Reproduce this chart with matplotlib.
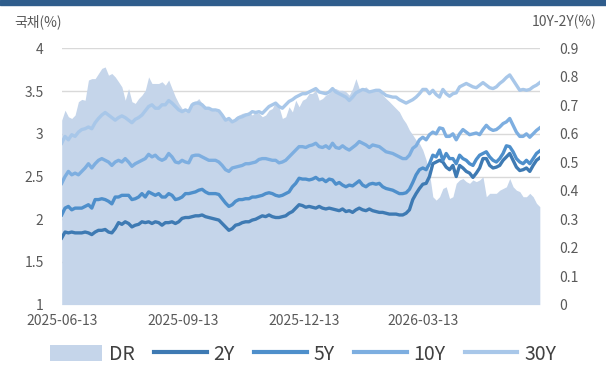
import pandas as pd
import matplotlib
matplotlib.use("Agg")
from matplotlib import pyplot as plt
from matplotlib.patches import Patch, Rectangle
from matplotlib.lines import Line2D
import matplotlib.dates as mdates

plt.rcParams['font.family'] = ['Noto Sans CJK KR', 'DejaVu Sans']

dates = pd.date_range('2025-06-13', '2026-06-09', periods=144)

y30 = [2.89, 2.97, 2.93, 2.99, 2.97, 3.02, 3.05, 3.06, 3.08, 3.06, 3.13, 3.18, 3.22, 3.25, 3.22, 3.19,
       3.16, 3.19, 3.21, 3.19, 3.16, 3.13, 3.17, 3.19, 3.22, 3.27, 3.32, 3.34, 3.30, 3.30, 3.34, 3.34,
       3.39, 3.36, 3.32, 3.28, 3.26, 3.28, 3.26, 3.34, 3.36, 3.36, 3.34, 3.30, 3.30, 3.28, 3.28, 3.27,
       3.22, 3.16, 3.18, 3.14, 3.16, 3.19, 3.20, 3.22, 3.23, 3.26, 3.25, 3.26, 3.24, 3.28, 3.32, 3.34,
       3.36, 3.32, 3.30, 3.34, 3.38, 3.40, 3.43, 3.45, 3.47, 3.47, 3.49, 3.51, 3.53, 3.49, 3.48, 3.47,
       3.49, 3.53, 3.49, 3.47, 3.45, 3.43, 3.39, 3.43, 3.48, 3.50, 3.52, 3.51, 3.49, 3.50, 3.51, 3.51,
       3.48, 3.45, 3.44, 3.43, 3.43, 3.40, 3.38, 3.36, 3.38, 3.40, 3.43, 3.47, 3.52, 3.52, 3.47, 3.51,
       3.46, 3.43, 3.52, 3.47, 3.44, 3.47, 3.48, 3.55, 3.57, 3.59, 3.57, 3.55, 3.54, 3.57, 3.60, 3.57,
       3.54, 3.53, 3.55, 3.59, 3.62, 3.66, 3.69, 3.63, 3.57, 3.51, 3.52, 3.51, 3.52, 3.55, 3.57, 3.60]

y10 = [2.42, 2.50, 2.56, 2.52, 2.54, 2.52, 2.56, 2.60, 2.65, 2.60, 2.65, 2.69, 2.71, 2.69, 2.67, 2.63,
       2.67, 2.69, 2.67, 2.71, 2.67, 2.62, 2.65, 2.67, 2.69, 2.71, 2.76, 2.73, 2.75, 2.71, 2.69, 2.71,
       2.77, 2.73, 2.67, 2.66, 2.69, 2.67, 2.66, 2.74, 2.75, 2.75, 2.73, 2.71, 2.69, 2.69, 2.69, 2.67,
       2.63, 2.58, 2.56, 2.60, 2.61, 2.62, 2.63, 2.65, 2.65, 2.66, 2.67, 2.70, 2.71, 2.71, 2.70, 2.69,
       2.69, 2.66, 2.67, 2.69, 2.73, 2.77, 2.81, 2.85, 2.85, 2.84, 2.86, 2.87, 2.89, 2.85, 2.84, 2.86,
       2.83, 2.89, 2.84, 2.83, 2.86, 2.83, 2.81, 2.84, 2.87, 2.91, 2.89, 2.87, 2.84, 2.87, 2.86, 2.85,
       2.82, 2.79, 2.78, 2.77, 2.75, 2.73, 2.71, 2.71, 2.75, 2.83, 2.86, 2.93, 2.96, 2.93, 2.99, 3.02,
       3.00, 3.07, 3.06, 2.97, 2.97, 3.00, 2.93, 3.00, 3.05, 3.02, 2.99, 3.00, 3.01, 2.99, 3.05, 3.10,
       3.06, 3.04, 3.05, 3.08, 3.12, 3.14, 3.18, 3.10, 3.02, 2.97, 2.97, 3.00, 2.96, 3.00, 3.04, 3.07]

y5 = [2.05, 2.13, 2.15, 2.11, 2.13, 2.13, 2.13, 2.15, 2.17, 2.13, 2.23, 2.23, 2.24, 2.23, 2.21, 2.18,
      2.26, 2.26, 2.28, 2.28, 2.28, 2.23, 2.24, 2.26, 2.30, 2.26, 2.32, 2.30, 2.28, 2.30, 2.26, 2.26,
      2.30, 2.28, 2.23, 2.24, 2.26, 2.30, 2.30, 2.31, 2.32, 2.34, 2.35, 2.32, 2.30, 2.30, 2.30, 2.29,
      2.24, 2.19, 2.15, 2.17, 2.21, 2.23, 2.23, 2.24, 2.24, 2.26, 2.26, 2.27, 2.28, 2.30, 2.31, 2.30,
      2.28, 2.27, 2.28, 2.30, 2.32, 2.38, 2.42, 2.48, 2.47, 2.47, 2.46, 2.47, 2.49, 2.46, 2.47, 2.44,
      2.47, 2.46, 2.41, 2.43, 2.40, 2.38, 2.40, 2.39, 2.42, 2.45, 2.40, 2.38, 2.41, 2.42, 2.41, 2.42,
      2.38, 2.36, 2.35, 2.34, 2.32, 2.30, 2.30, 2.31, 2.35, 2.43, 2.52, 2.58, 2.60, 2.58, 2.65, 2.75,
      2.73, 2.81, 2.69, 2.77, 2.71, 2.71, 2.65, 2.75, 2.71, 2.69, 2.65, 2.63, 2.70, 2.75, 2.77, 2.79,
      2.73, 2.69, 2.67, 2.71, 2.77, 2.86, 2.85, 2.79, 2.71, 2.67, 2.65, 2.69, 2.65, 2.71, 2.77, 2.80]

y2 = [1.78, 1.85, 1.84, 1.85, 1.84, 1.84, 1.84, 1.85, 1.84, 1.82, 1.85, 1.87, 1.87, 1.88, 1.85, 1.84,
      1.89, 1.96, 1.94, 1.97, 1.95, 1.91, 1.93, 1.94, 1.97, 1.96, 1.97, 1.95, 1.97, 1.96, 1.93, 1.96,
      1.96, 1.97, 1.95, 1.97, 2.01, 2.02, 2.02, 2.03, 2.04, 2.04, 2.05, 2.03, 2.02, 2.01, 2.00, 1.99,
      1.95, 1.91, 1.87, 1.89, 1.93, 1.94, 1.96, 1.97, 1.97, 1.99, 2.00, 2.02, 2.04, 2.03, 2.05, 2.03,
      2.02, 2.02, 2.03, 2.04, 2.07, 2.09, 2.13, 2.17, 2.16, 2.14, 2.15, 2.14, 2.13, 2.15, 2.13, 2.12,
      2.13, 2.12, 2.11, 2.10, 2.12, 2.09, 2.10, 2.08, 2.11, 2.13, 2.11, 2.10, 2.12, 2.10, 2.09, 2.08,
      2.08, 2.07, 2.06, 2.06, 2.06, 2.05, 2.05, 2.07, 2.11, 2.23, 2.30, 2.36, 2.41, 2.42, 2.50, 2.65,
      2.67, 2.69, 2.67, 2.61, 2.58, 2.63, 2.50, 2.63, 2.60, 2.56, 2.54, 2.49, 2.54, 2.60, 2.71, 2.71,
      2.63, 2.60, 2.61, 2.63, 2.69, 2.73, 2.77, 2.69, 2.61, 2.57, 2.58, 2.60, 2.56, 2.63, 2.69, 2.72]

dr = [0.648, 0.683, 0.660, 0.654, 0.666, 0.713, 0.721, 0.718, 0.789, 0.794, 0.794, 0.812, 0.830, 0.835, 0.806, 0.812,
      0.800, 0.783, 0.765, 0.718, 0.759, 0.713, 0.707, 0.724, 0.736, 0.753, 0.800, 0.777, 0.777, 0.777, 0.783, 0.771,
      0.789, 0.759, 0.730, 0.707, 0.689, 0.677, 0.681, 0.713, 0.713, 0.724, 0.707, 0.695, 0.689, 0.683, 0.681, 0.679,
      0.666, 0.648, 0.654, 0.642, 0.660, 0.666, 0.672, 0.674, 0.677, 0.666, 0.677, 0.672, 0.660, 0.666, 0.683, 0.689,
      0.713, 0.695, 0.654, 0.660, 0.695, 0.677, 0.718, 0.695, 0.718, 0.724, 0.742, 0.742, 0.753, 0.718, 0.724, 0.736,
      0.742, 0.756, 0.759, 0.753, 0.753, 0.748, 0.736, 0.759, 0.794, 0.759, 0.759, 0.765, 0.753, 0.753, 0.756, 0.753,
      0.736, 0.724, 0.713, 0.701, 0.689, 0.677, 0.654, 0.637, 0.613, 0.596, 0.578, 0.566, 0.543, 0.508, 0.461, 0.379,
      0.367, 0.379, 0.408, 0.414, 0.373, 0.379, 0.426, 0.438, 0.443, 0.432, 0.426, 0.438, 0.432, 0.438, 0.449, 0.379,
      0.391, 0.391, 0.391, 0.402, 0.408, 0.414, 0.443, 0.414, 0.402, 0.397, 0.379, 0.379, 0.391, 0.379, 0.356, 0.344]

tick_dates = ['2025-06-13', '2025-09-13', '2025-12-13', '2026-03-13']

C_DR = '#C5D5EA'
C_2Y = '#3E7AB3'
C_5Y = '#4E8FCB'
C_10Y = '#7DAEE0'
C_30Y = '#A8C7E9'
TXT = '#595959'

fig = plt.figure(figsize=(6.06, 3.67), dpi=100)
fig.patches.append(Rectangle((0, 1 - 5 / 367), 1, 5 / 367, transform=fig.transFigure,
                             color='#2F5D8C', zorder=0))

rect = [0.1018, 0.170, 0.789, 0.698]
ax = fig.add_axes(rect)          # left scale + grid
ax2 = ax.twinx()                 # spread area, right scale
ax3 = ax.twinx()                 # yield lines, left scale

ax.set_zorder(0)
ax2.set_zorder(1)
ax3.set_zorder(2)
ax2.patch.set_visible(False)
ax3.patch.set_visible(False)

ax2.fill_between(dates, dr, 0, color=C_DR, linewidth=0)
ax3.plot(dates, y2, color=C_2Y, lw=2.4)
ax3.plot(dates, y5, color=C_5Y, lw=2.4)
ax3.plot(dates, y10, color=C_10Y, lw=2.4)
ax3.plot(dates, y30, color=C_30Y, lw=2.4)

for a in (ax, ax3):
    a.set_ylim(1, 4)
ax2.set_ylim(0, 0.9)
ax.set_xlim(dates[0], dates[-1])

ax.set_yticks([1, 1.5, 2, 2.5, 3, 3.5, 4])
ax.set_yticklabels(['1', '1.5', '2', '2.5', '3', '3.5', '4'])
ax.grid(axis='y', color='#D9D9D9', lw=1.0)
ax.grid(axis='x', visible=False)
ax2.set_yticks([i / 10 for i in range(10)])
ax2.set_yticklabels(['0'] + [f'{i / 10:.1f}' for i in range(1, 10)])
ax3.set_yticks([])

ax.set_xticks(pd.to_datetime(tick_dates))
ax.xaxis.set_major_formatter(mdates.DateFormatter('%Y-%m-%d'))

for a in (ax, ax2, ax3):
    for s in a.spines.values():
        s.set_visible(False)
ax.tick_params(axis='y', length=0, pad=13, labelsize=10, labelcolor=TXT)
ax2.tick_params(axis='y', length=0, pad=14, labelsize=10, labelcolor=TXT)
ax.tick_params(axis='x', length=0, pad=7, labelsize=10, labelcolor=TXT)

fig.text(0.023, 0.94, '국채(%)', fontsize=10, color=TXT, va='center', ha='left')
fig.text(0.985, 0.94, '10Y-2Y(%)', fontsize=10, color=TXT, va='center', ha='right')

handles = [Patch(facecolor=C_DR, edgecolor='none'),
           Line2D([], [], color=C_2Y, lw=3),
           Line2D([], [], color=C_5Y, lw=3),
           Line2D([], [], color=C_10Y, lw=3),
           Line2D([], [], color=C_30Y, lw=3)]
fig.legend(handles, ['DR', '2Y', '5Y', '10Y', '30Y'], loc='center', bbox_to_anchor=(0.5, 0.035),
           ncol=5, frameon=False, fontsize=14, labelcolor='#404040', handlelength=2.7,
           handleheight=0.95, handletextpad=0.35, columnspacing=1.0)

fig.savefig('out.png', dpi=100)
